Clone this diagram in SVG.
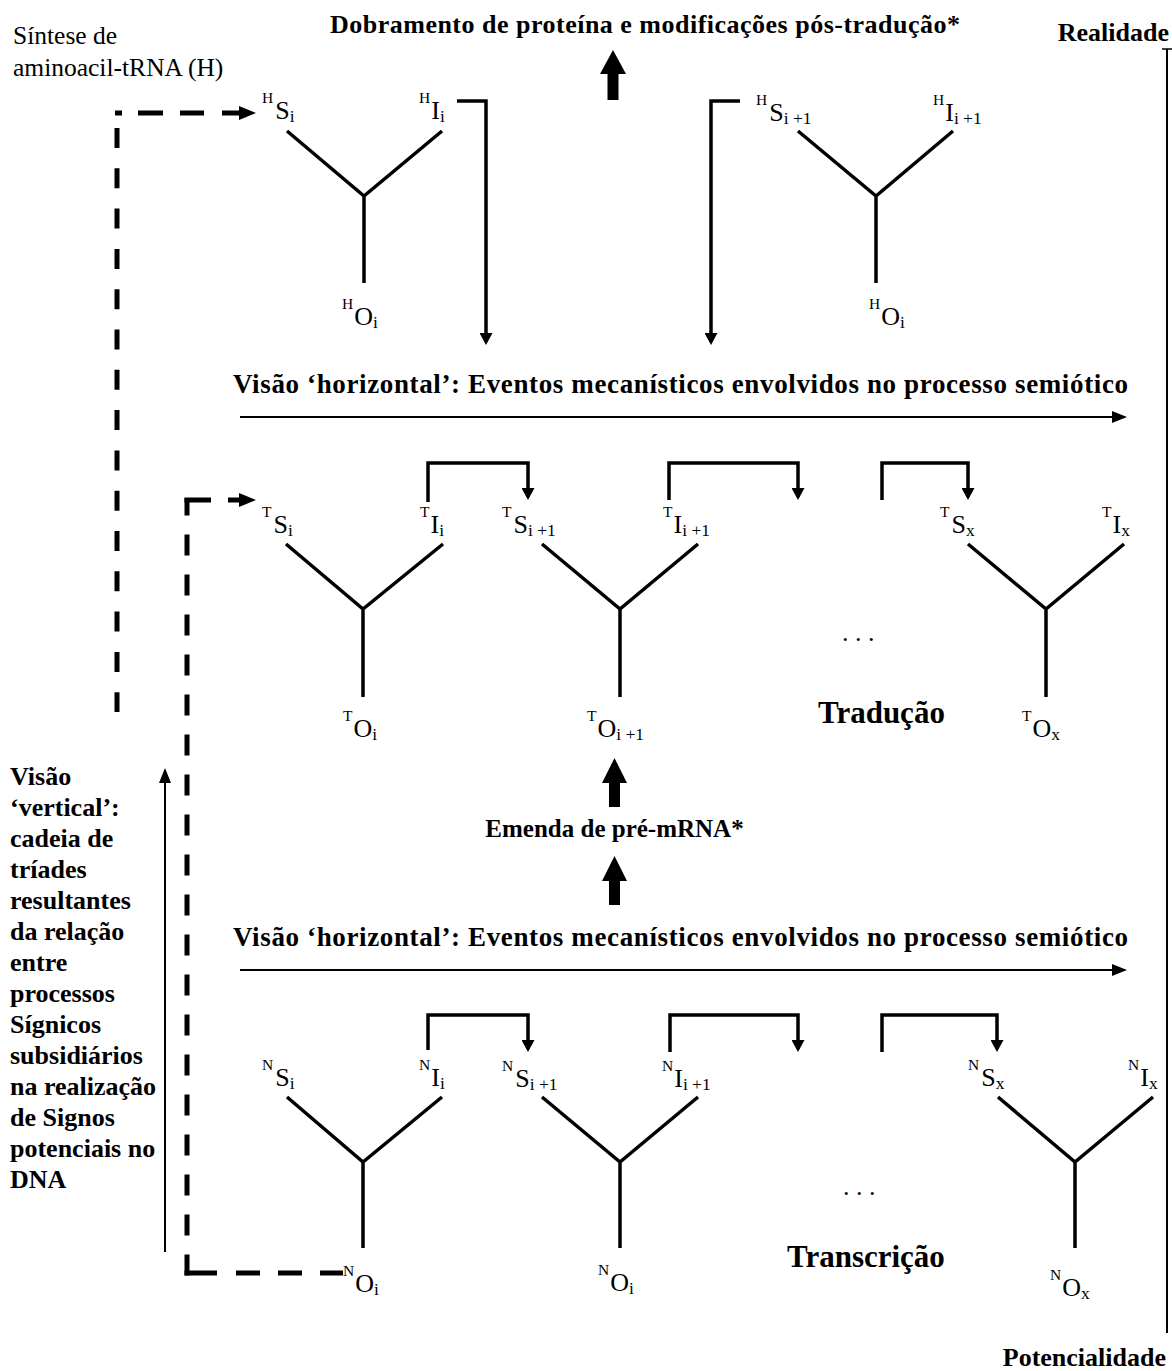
<svg xmlns="http://www.w3.org/2000/svg" width="1172" height="1371" viewBox="0 0 1172 1371">
<defs>
<style>
.t{font-family:"Liberation Serif","Times New Roman",serif;fill:#000}
.b{font-weight:bold}
.lbl{font-size:26px}
.sup{font-size:15.5px}
.sub{font-size:17.5px}
.tri{stroke:#000;stroke-width:3.5;fill:none;stroke-linejoin:miter}
.loop{stroke:#000;stroke-width:3.5;fill:none;stroke-linejoin:miter;marker-end:url(#ah)}
.thin{stroke:#000;stroke-width:2;fill:none;marker-end:url(#ht)}
.dash{stroke:#000;stroke-width:5;fill:none}
.fat{fill:#000}
</style>
<marker id="ah" markerUnits="userSpaceOnUse" viewBox="0 0 13 13" markerWidth="13" markerHeight="13" refX="9" refY="6.5" orient="auto"><path d="M0,0 L12,6.5 L0,13 z" fill="#000"/></marker>
<marker id="ht" markerUnits="userSpaceOnUse" viewBox="0 0 15 12" markerWidth="15" markerHeight="12" refX="13" refY="6" orient="auto"><path d="M0,0 L15,6 L0,12 z" fill="#000"/></marker>
<marker id="da" markerUnits="userSpaceOnUse" viewBox="0 0 17 14" markerWidth="17" markerHeight="14" refX="4" refY="7" orient="auto"><path d="M0,0 L17,7 L0,14 z" fill="#000"/></marker>
</defs>
<rect width="1172" height="1371" fill="#fff"/>

<!-- headings -->
<g id="title"><text class="t b" x="330" y="33" font-size="26" textLength="630">Dobramento de proteína e modificações pós-tradução*</text></g>
<g id="realidade"><text class="t b" x="1169" y="41" font-size="26" text-anchor="end">Realidade</text></g>
<g id="potencialidade"><text class="t b" x="1166" y="1366" font-size="26" text-anchor="end">Potencialidade</text></g>
<g id="sintese"><text class="t" font-size="25.5"><tspan x="13" y="44">Síntese de</tspan><tspan x="13" y="76">aminoacil-tRNA (H)</tspan></text></g>
<g id="horiz1"><text class="t b" x="233" y="393" font-size="27" textLength="895">Visão ‘horizontal’: Eventos mecanísticos envolvidos no processo semiótico</text></g>
<g id="horiz2"><text class="t b" x="233" y="946" font-size="27" textLength="895">Visão ‘horizontal’: Eventos mecanísticos envolvidos no processo semiótico</text></g>
<g id="emenda"><text class="t b" x="614.5" y="837" font-size="25" text-anchor="middle">Emenda de pré-mRNA*</text></g>
<g id="traducao"><text class="t b" x="818" y="723" font-size="31">Tradução</text></g>
<g id="transcricao"><text class="t b" x="787" y="1267" font-size="31">Transcrição</text></g>
<g id="dotsT"><text class="t" x="842" y="641" font-size="26">. . .</text></g>
<g id="dotsN"><text class="t" x="843" y="1195" font-size="26">. . .</text></g>
<g id="vertical-label"><text class="t b" font-size="26">
<tspan x="10" y="785">Visão</tspan>
<tspan x="10" y="816">‘vertical’:</tspan>
<tspan x="10" y="847">cadeia de</tspan>
<tspan x="10" y="878">tríades</tspan>
<tspan x="10" y="909">resultantes</tspan>
<tspan x="10" y="940">da relação</tspan>
<tspan x="10" y="971">entre</tspan>
<tspan x="10" y="1002">processos</tspan>
<tspan x="10" y="1033">Sígnicos</tspan>
<tspan x="10" y="1064">subsidiários</tspan>
<tspan x="10" y="1095">na realização</tspan>
<tspan x="10" y="1126">de Signos</tspan>
<tspan x="10" y="1157">potenciais no</tspan>
<tspan x="10" y="1188">DNA</tspan>
</text></g>

<!-- triads -->
<g id="triad-H-i">
<path class="tri" d="M287,131 L364,196 L442,131 M364,196 V283"/>
<text class="t lbl" x="262" y="119"><tspan class="sup" dy="-16">H</tspan><tspan dx="2" dy="16">S</tspan><tspan class="sub" dy="3">i</tspan></text>
<text class="t lbl" x="419" y="119"><tspan class="sup" dy="-16">H</tspan><tspan dx="1" dy="16">I</tspan><tspan class="sub" dy="3">i</tspan></text>
<text class="t lbl" x="342" y="325"><tspan class="sup" dy="-16">H</tspan><tspan dx="1" dy="16">O</tspan><tspan class="sub" dy="3">i</tspan></text>
</g>
<g id="triad-H-i1">
<path class="tri" d="M798,131 L876,196 L953,131 M876,196 V283"/>
<text class="t lbl" x="756" y="121"><tspan class="sup" dy="-16">H</tspan><tspan dx="2" dy="16">S</tspan><tspan class="sub" dy="3">i +1</tspan></text>
<text class="t lbl" x="933" y="121"><tspan class="sup" dy="-16">H</tspan><tspan dx="1" dy="16">I</tspan><tspan class="sub" dy="3">i +1</tspan></text>
<text class="t lbl" x="869" y="325"><tspan class="sup" dy="-16">H</tspan><tspan dx="1" dy="16">O</tspan><tspan class="sub" dy="3">i</tspan></text>
</g>
<g id="triad-T-i">
<path class="tri" d="M286,544 L363,609 L443,544 M363,609 V697"/>
<text class="t lbl" x="262" y="533"><tspan class="sup" dy="-16">T</tspan><tspan dx="2" dy="16">S</tspan><tspan class="sub" dy="3">i</tspan></text>
<text class="t lbl" x="420" y="533"><tspan class="sup" dy="-16">T</tspan><tspan dx="1" dy="16">I</tspan><tspan class="sub" dy="3">i</tspan></text>
<text class="t lbl" x="343" y="737"><tspan class="sup" dy="-16">T</tspan><tspan dx="1" dy="16">O</tspan><tspan class="sub" dy="3">i</tspan></text>
</g>
<g id="triad-T-i1">
<path class="tri" d="M542,544 L620,609 L698,544 M620,609 V697"/>
<text class="t lbl" x="502" y="533"><tspan class="sup" dy="-16">T</tspan><tspan dx="2" dy="16">S</tspan><tspan class="sub" dy="3">i +1</tspan></text>
<text class="t lbl" x="663" y="533"><tspan class="sup" dy="-16">T</tspan><tspan dx="1" dy="16">I</tspan><tspan class="sub" dy="3">i +1</tspan></text>
<text class="t lbl" x="587" y="737"><tspan class="sup" dy="-16">T</tspan><tspan dx="1" dy="16">O</tspan><tspan class="sub" dy="3">i +1</tspan></text>
</g>
<g id="triad-T-x">
<path class="tri" d="M968,544 L1046,609 L1124,544 M1046,609 V697"/>
<text class="t lbl" x="940" y="533"><tspan class="sup" dy="-16">T</tspan><tspan dx="2" dy="16">S</tspan><tspan class="sub" dy="3">x</tspan></text>
<text class="t lbl" x="1102" y="533"><tspan class="sup" dy="-16">T</tspan><tspan dx="1" dy="16">I</tspan><tspan class="sub" dy="3">x</tspan></text>
<text class="t lbl" x="1022" y="737"><tspan class="sup" dy="-16">T</tspan><tspan dx="1" dy="16">O</tspan><tspan class="sub" dy="3">x</tspan></text>
</g>
<g id="triad-N-i">
<path class="tri" d="M287,1097 L363,1162 L442,1097 M363,1162 V1248"/>
<text class="t lbl" x="262" y="1086"><tspan class="sup" dy="-16">N</tspan><tspan dx="2" dy="16">S</tspan><tspan class="sub" dy="3">i</tspan></text>
<text class="t lbl" x="419" y="1086"><tspan class="sup" dy="-16">N</tspan><tspan dx="1" dy="16">I</tspan><tspan class="sub" dy="3">i</tspan></text>
<text class="t lbl" x="343" y="1292"><tspan class="sup" dy="-16">N</tspan><tspan dx="1" dy="16">O</tspan><tspan class="sub" dy="3">i</tspan></text>
</g>
<g id="triad-N-i1">
<path class="tri" d="M542,1097 L620,1162 L698,1097 M620,1162 V1248"/>
<text class="t lbl" x="502" y="1087"><tspan class="sup" dy="-16">N</tspan><tspan dx="2" dy="16">S</tspan><tspan class="sub" dy="3">i +1</tspan></text>
<text class="t lbl" x="662" y="1087"><tspan class="sup" dy="-16">N</tspan><tspan dx="1" dy="16">I</tspan><tspan class="sub" dy="3">i +1</tspan></text>
<text class="t lbl" x="598" y="1291"><tspan class="sup" dy="-16">N</tspan><tspan dx="1" dy="16">O</tspan><tspan class="sub" dy="3">i</tspan></text>
</g>
<g id="triad-N-x">
<path class="tri" d="M998,1097 L1075,1162 L1153,1097 M1075,1162 V1248"/>
<text class="t lbl" x="968" y="1086"><tspan class="sup" dy="-16">N</tspan><tspan dx="2" dy="16">S</tspan><tspan class="sub" dy="3">x</tspan></text>
<text class="t lbl" x="1128" y="1086"><tspan class="sup" dy="-16">N</tspan><tspan dx="1" dy="16">I</tspan><tspan class="sub" dy="3">x</tspan></text>
<text class="t lbl" x="1050" y="1296"><tspan class="sup" dy="-16">N</tspan><tspan dx="1" dy="16">O</tspan><tspan class="sub" dy="3">x</tspan></text>
</g>

<!-- connectors -->
<g id="connectors">
<path class="loop" d="M457,101 H486 V342"/>
<path class="loop" d="M740,101 H711 V342"/>
<path class="loop" d="M428,502 V463 H528 V497"/>
<path class="loop" d="M669,500 V463 H798 V497"/>
<path class="loop" d="M882,500 V463 H968 V497"/>
<path class="loop" d="M428,1050 V1015 H528 V1049"/>
<path class="loop" d="M670,1052 V1015 H798 V1049"/>
<path class="loop" d="M882,1052 V1015 H997 V1049"/>
<path class="thin" d="M240,417 H1125"/>
<path class="thin" d="M240,970 H1125"/>
<path class="thin" d="M165,1252 V770"/>
<path d="M1167,49 V1333" stroke="#000" stroke-width="2" fill="none"/>
<path d="M1162,49 H1172" stroke="#000" stroke-width="1.5" fill="none"/>
<path class="fat" d="M600,74 L613,50 L626,74 H618.5 V100 H607.5 V74 Z"/>
<path class="fat" d="M602,783 L614.5,758 L627,783 H620 V807 H609 V783 Z"/>
<path class="fat" d="M602,881 L614.5,856 L627,881 H620 V905 H609 V881 Z"/>
<path class="dash" d="M117,128 V712" stroke-dasharray="20 20.3"/>
<path class="dash" d="M115,113 H122 M138,113 H163 M180,113 H204 M222,113 H243" marker-end="url(#da)"/>
<path class="dash" d="M187,1275.5 V498" stroke-dasharray="21 19"/>
<path class="dash" d="M184.5,1273 H217 M236,1273 H260 M278,1273 H302 M320,1273 H343"/>
<path class="dash" d="M184.5,500 H211 M228,500 H243" marker-end="url(#da)"/>
</g>
</svg>
